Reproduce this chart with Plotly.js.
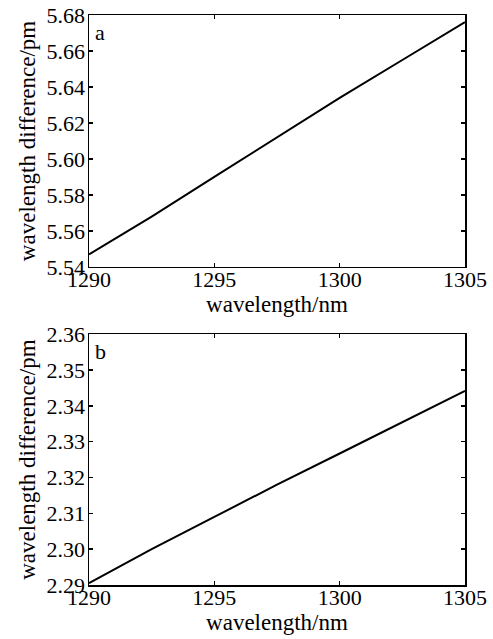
<!DOCTYPE html>
<html>
<head>
<meta charset="utf-8">
<script src="https://cdn.plot.ly/plotly-3.0.1.min.js"></script>
<style>html,body{margin:0;padding:0;background:#fff;}#chart{width:493px;height:639px;}</style>
</head>
<body>
<div id="chart"></div>
<script>
// Data
const wavelength = [1290, 1292.5, 1295, 1297.5, 1300, 1302.5, 1305];
const diffA = [5.547, 5.568, 5.590, 5.612, 5.634, 5.655, 5.676];
const diffB = [2.2905, 2.300, 2.309, 2.318, 2.3267, 2.3355, 2.3442];
const xTicks = [1290, 1295, 1300, 1305];
const yTicksA = [5.54, 5.56, 5.58, 5.60, 5.62, 5.64, 5.66, 5.68];
const yTicksB = [2.29, 2.30, 2.31, 2.32, 2.33, 2.34, 2.35, 2.36];
const xLabel = 'wavelength/nm';
const yLabel = 'wavelength difference/pm';
const panelLabels = ['a', 'b'];

const FAM = 'Liberation Serif, serif';
function f(size) { return {family: FAM, size: size, color: '#000'}; }

function xaxis(anchor) {
  return {
    anchor: anchor, range: [1290, 1305], tickmode: 'array', tickvals: xTicks, ticktext: xTicks.map(String),
    ticks: 'inside', ticklen: 4, tickwidth: 1.5, tickcolor: '#000',
    showline: true, linecolor: '#000', linewidth: 1.5, mirror: 'ticks',
    showgrid: false, zeroline: false, tickfont: f(22), ticklabelstandoff: -8,
    title: {text: xLabel, font: f(23), standoff: 2}
  };
}
function yaxis(anchor, domain, range, ticks) {
  return {
    anchor: anchor, domain: domain, range: range, tickmode: 'array', tickvals: ticks,
    ticktext: ticks.map(v => v.toFixed(2)),
    ticks: 'inside', ticklen: 4, tickwidth: 1.5, tickcolor: '#000',
    showline: true, linecolor: '#000', linewidth: 1.5, mirror: 'ticks',
    showgrid: false, zeroline: false, tickfont: f(22), ticklabelstandoff: -2,
    title: {text: yLabel, font: f(23), standoff: 4}
  };
}

const traces = [
  {x: wavelength, y: diffA, xaxis: 'x', yaxis: 'y', mode: 'lines', line: {color: '#000', width: 2}, showlegend: false},
  {x: wavelength, y: diffB, xaxis: 'x2', yaxis: 'y2', mode: 'lines', line: {color: '#000', width: 2}, showlegend: false}
];

const layout = {
  width: 493, height: 639,
  margin: {l: 89, r: 28, t: 15, b: 54},
  paper_bgcolor: '#fff', plot_bgcolor: '#fff',
  font: f(22),
  xaxis: xaxis('y'),
  yaxis: yaxis('x', [0.558, 1], [5.54, 5.68], yTicksA),
  xaxis2: xaxis('y2'),
  yaxis2: yaxis('x2', [0, 0.44], [2.29, 2.36], yTicksB),
  annotations: [
    {text: panelLabels[0], xref: 'x domain', yref: 'y domain', x: 0.01, y: 0.99, xanchor: 'left', yanchor: 'top', showarrow: false, font: f(22)},
    {text: panelLabels[1], xref: 'x2 domain', yref: 'y2 domain', x: 0.01, y: 0.99, xanchor: 'left', yanchor: 'top', showarrow: false, font: f(22)}
  ]
};

Plotly.newPlot('chart', traces, layout, {staticPlot: true, displayModeBar: false});
</script>
</body>
</html>
